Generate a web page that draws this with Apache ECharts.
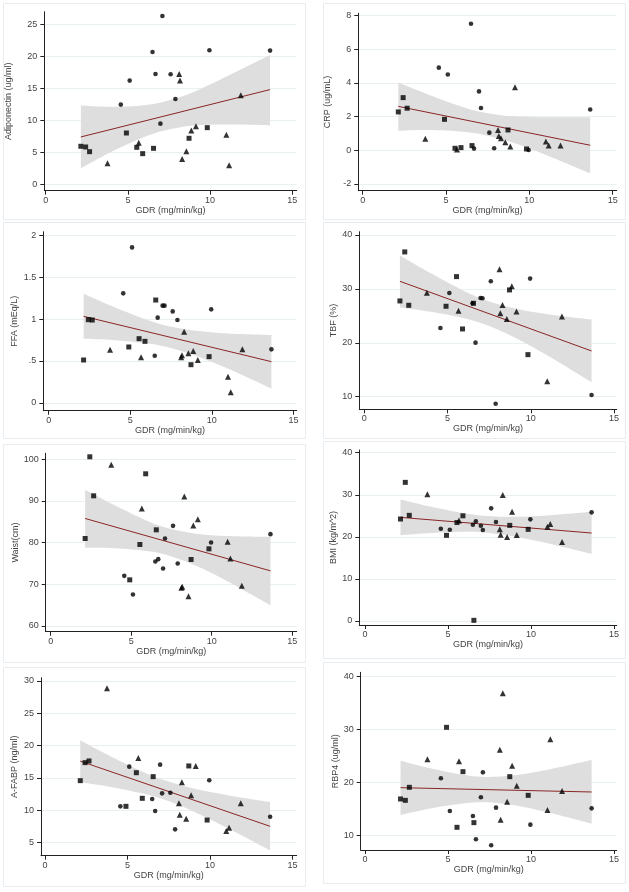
<!DOCTYPE html>
<html><head><meta charset="utf-8">
<script src="https://cdn.jsdelivr.net/npm/echarts@6.0.0/dist/echarts.min.js"></script>
<style>html,body{margin:0;padding:0;background:#fff}#c{width:629px;height:892px}</style>
</head><body><div id="c"></div><script>
// GDR (mg/min/kg) of each subject, by marker group
const gdrSquare   = [2.14, 2.43, 2.67, 4.91, 5.54, 5.90, 6.56, 8.72, 9.83];
const gdrCircle   = [4.57, 5.11, 6.50, 6.68, 6.98, 7.10, 7.60, 7.89, 9.96, 13.65];
const gdrTriangle = [3.76, 5.66, 8.12, 8.17, 8.30, 8.56, 8.86, 9.14, 10.99, 11.16, 11.87];
const xTicks = [0, 5, 10, 15];
const bandX = [2.14, 4, 6, 7.3, 9, 11, 13.65];
const fitX = [2.14, 13.65];

// Adiponectin
const adipoSquare = [5.94, 5.83, 5.10, 8.02, 5.78, 4.79, 5.62, 7.19, 8.85];
const adipoCircle = [12.45, 16.2, 20.68, 17.24, 9.48, 26.3, 17.19, 13.33, 20.94, 20.89];
const adipoTriangle = [3.28, 6.51, 17.24, 16.2, 3.96, 5.16, 8.39, 9.06, 7.76, 2.97, 13.9];
const adipoUpper = [12.3, 12.1, 12.36, 12.96, 14.43, 16.84, 20.2];
const adipoLower = [2.5, 5.08, 7.4, 8.46, 9.17, 9.34, 9.2];
const adipoFit = [7.4, 14.8];
const adipoTicks = [0, 5, 10, 15, 20, 25];

// CRP
const crpSquare = [2.28, 3.13, 2.5, 1.84, 0.12, 0.16, 0.28, 1.21, 0.08];
const crpCircle = [4.91, 4.5, 7.52, 0.1, 3.5, 2.51, 1.05, 0.12, 0.02, 2.42];
const crpTriangle = [0.69, 0.05, 1.21, 0.85, 0.71, 0.48, 0.22, 3.74, 0.53, 0.28, 0.28];
const crpUpper = [4.03, 3.29, 2.58, 2.25, 2.02, 1.96, 1.97];
const crpLower = [1.16, 1.2, 1.1, 0.91, 0.46, -0.28, -1.37];
const crpFit = [2.61, 0.3];
const crpTicks = [-2, 0, 2, 4, 6, 8];

// FFA
const ffaSquare = [0.512, 0.992, 0.988, 0.667, 0.766, 0.734, 1.226, 0.456, 0.552];
const ffaCircle = [1.306, 1.853, 0.563, 1.016, 1.159, 1.159, 1.091, 0.988, 1.115, 0.639];
const ffaTriangle = [0.635, 0.544, 0.544, 0.567, 0.849, 0.591, 0.619, 0.512, 0.313, 0.127, 0.639];
const ffaUpper = [1.30, 1.142, 0.99, 0.916, 0.859, 0.827, 0.809];
const ffaLower = [0.764, 0.748, 0.712, 0.664, 0.563, 0.407, 0.172];
const ffaFit = [1.032, 0.492];
const ffaTicks = [0, 0.5, 1, 1.5, 2];

// TBF
const tbfSquare = [27.76, 36.85, 26.95, 26.77, 32.27, 22.56, 27.32, 29.8, 17.8];
const tbfCircle = [22.75, 29.24, 27.32, 20.02, 28.31, 28.25, 31.4, 8.7, 31.9, 10.32];
const tbfTriangle = [29.3, 25.96, 33.63, 25.47, 27.01, 24.42, 30.48, 25.78, 12.85, null, 24.85];
const tbfUpper = [36.2, 32.89, 29.61, 27.9, 26.39, 25.28, 24.3];
const tbfLower = [26.55, 25.75, 24.55, 23.34, 21.03, 17.66, 12.7];
const tbfFit = [31.4, 18.48];
const tbfTicks = [10, 20, 30, 40];

// Waist
const waistSquare = [80.96, 100.56, 91.2, 71.04, 79.52, 96.48, 83.04, 75.92, 78.48];
const waistCircle = [72.0, 67.52, 75.44, 76.0, 73.76, 80.96, 84.0, 74.96, 80.0, 82.0];
const waistTriangle = [98.64, 88.16, 69.12, 69.36, 91.04, 67.12, 84.08, 85.6, 80.16, 76.16, 69.6];
const waistUpper = [92.65, 88.85, 85.18, 83.41, 82.12, 81.57, 81.35];
const waistLower = [78.75, 78.63, 77.94, 76.87, 74.46, 70.65, 64.95];
const waistFit = [85.76, 73.2];
const waistTicks = [60, 70, 80, 90, 100];

// BMI
const bmiSquare = [24.24, 32.95, 25.11, 20.36, 23.4, 25.0, 0.16, 22.73, 21.78];
const bmiCircle = [21.94, 21.7, 22.89, 23.68, 22.65, 21.62, 26.77, 23.52, 24.16, 25.82];
const bmiTriangle = [30.1, 23.9, 21.78, 20.51, 29.94, 19.96, 25.98, 20.44, 22.42, 23.05, 18.77];
const bmiUpper = [28.88, 27.14, 25.59, 24.96, 24.75, 25.09, 25.95];
const bmiLower = [20.38, 20.92, 21.19, 20.98, 20.09, 18.45, 15.9];
const bmiFit = [24.63, 20.91];
const bmiTicks = [0, 10, 20, 30, 40];

// A-FABP
const fabpSquare = [14.59, 17.37, 17.63, 10.62, 15.82, 11.86, 15.21, 16.86, 8.5];
const fabpCircle = [10.62, 16.75, 11.75, 9.9, 17.06, 12.63, 12.73, 7.06, 14.64, 9.02];
const fabpTriangle = [28.87, 18.09, 11.08, 9.33, 14.33, 8.71, 12.32, 16.86, 6.8, 7.32, 11.08];
const fabpUpper = [20.85, 18.34, 15.9, 14.6, 13.37, 12.38, 11.28];
const fabpLower = [14.35, 13.62, 12.56, 11.58, 9.83, 7.34, 3.8];
const fabpFit = [17.6, 7.53];
const fabpTicks = [5, 10, 15, 20, 25, 30];

// RBP4
const rbpSquare = [16.9, 16.64, 19.09, 30.36, 11.57, 22.03, 12.45, 21.09, 17.58];
const rbpCircle = [20.78, 14.64, 13.7, 9.32, 17.21, 21.9, 8.19, 15.27, 12.07, 15.14];
const rbpTriangle = [24.35, 23.97, 26.16, 13.01, 36.74, 16.39, 23.16, 19.4, 14.83, 28.1, 18.4];
const rbpUpper = [24.1, 22.63, 21.4, 21.05, 21.34, 22.4, 24.22];
const rbpLower = [13.9, 15.15, 16.1, 16.27, 15.74, 14.4, 12.25];
const rbpFit = [19.02, 18.21];
const rbpTicks = [10, 20, 30, 40];

const panels = [
  {title:'Adiponectin (ug/ml)', sq:adipoSquare, ci:adipoCircle, tr:adipoTriangle, up:adipoUpper, lo:adipoLower, fit:adipoFit, ticks:adipoTicks},
  {title:'CRP (ug/mL)', sq:crpSquare, ci:crpCircle, tr:crpTriangle, up:crpUpper, lo:crpLower, fit:crpFit, ticks:crpTicks},
  {title:'FFA (mEq/L)', sq:ffaSquare, ci:ffaCircle, tr:ffaTriangle, up:ffaUpper, lo:ffaLower, fit:ffaFit, ticks:ffaTicks},
  {title:'TBF (%)', sq:tbfSquare, ci:tbfCircle, tr:tbfTriangle, up:tbfUpper, lo:tbfLower, fit:tbfFit, ticks:tbfTicks},
  {title:'Waist(cm)', sq:waistSquare, ci:waistCircle, tr:waistTriangle, up:waistUpper, lo:waistLower, fit:waistFit, ticks:waistTicks},
  {title:'BMI (kg/m^2)', sq:bmiSquare, ci:bmiCircle, tr:bmiTriangle, up:bmiUpper, lo:bmiLower, fit:bmiFit, ticks:bmiTicks},
  {title:'A-FABP (ng/ml)', sq:fabpSquare, ci:fabpCircle, tr:fabpTriangle, up:fabpUpper, lo:fabpLower, fit:fabpFit, ticks:fabpTicks},
  {title:'RBP4 (ug/ml)', sq:rbpSquare, ci:rbpCircle, tr:rbpTriangle, up:rbpUpper, lo:rbpLower, fit:rbpFit, ticks:rbpTicks}
];

// layout of each panel (plot area edges in px, axis ranges, y-title gap)
const layouts = [
  {l:44.3, t:11.7, r:296.7, b:190.7, x:[-0.085,15.27], y:[-1.0,26.97], gap:31},
  {l:358.3, t:13.3, r:616.7, b:190.7, x:[-0.26,15.24], y:[-2.4,8.14], gap:26},
  {l:43.3, t:231.7, r:296.7, b:410.7, x:[-0.33,15.2], y:[-0.092,2.04], gap:24},
  {l:359.3, t:231.7, r:616.7, b:409.3, x:[-0.3,15.16], y:[7.66,40.6], gap:21},
  {l:45.7, t:453.3, r:296.7, b:631.7, x:[-0.31,15.28], y:[58.6,101.4], gap:26},
  {l:359.3, t:450, r:616.7, b:625, x:[-0.34,15.16], y:[-0.95,40.64], gap:19.5},
  {l:41, t:677.7, r:296.7, b:855.7, x:[-0.24,15.26], y:[2.99,30.5], gap:21.5},
  {l:360.7, t:672.3, r:616.7, b:850, x:[-0.26,15.16], y:[7.31,40.7], gap:20.5}
];
const frames = [
  [3,3,302,216],[323,3,302,216],[3,222,302,216],[323,222,302,216],
  [3,444,302,218],[323,441,302,217],[3,667,302,219],[323,662,302,221]
];

const FONT = '"Liberation Sans", Arial, sans-serif';
const TXT = '#444';

function splinePath(pts){
  let d = '';
  for (let i = 0; i < pts.length - 1; i++) {
    const p0 = pts[Math.max(i-1,0)], p1 = pts[i], p2 = pts[i+1], p3 = pts[Math.min(i+2, pts.length-1)];
    const c1 = [p1[0] + (p2[0]-p0[0])/6, p1[1] + (p2[1]-p0[1])/6];
    const c2 = [p2[0] - (p3[0]-p1[0])/6, p2[1] - (p3[1]-p1[1])/6];
    d += ' C' + c1[0] + ' ' + c1[1] + ' ' + c2[0] + ' ' + c2[1] + ' ' + p2[0] + ' ' + p2[1];
  }
  return d;
}
function fmtTick(v){
  if (v !== 0 && Math.abs(v) < 1) return String(v).replace('0.', '.');
  return String(v);
}
function pairs(xs, ys){ return xs.map((x,i)=>[x, ys[i]]).filter(p=>p[1]!=null); }

const grid = [], xAxis = [], yAxis = [], series = [], graphic = [];
panels.forEach((p, i) => {
  const L = layouts[i];
  grid.push({left:L.l, top:L.t, width:L.r-L.l, height:L.b-L.t, containLabel:false});
  xAxis.push({
    gridIndex:i, type:'value', min:L.x[0], max:L.x[1],
    name:'GDR (mg/min/kg)', nameLocation:'middle', nameGap:14,
    nameTextStyle:{color:TXT, fontSize:9, fontFamily:FONT},
    axisLine:{show:true, onZero:false, lineStyle:{color:'#222', width:1}},
    axisTick:{show:true, length:4, customValues:xTicks, lineStyle:{color:'#222', width:1}},
    axisLabel:{customValues:xTicks, color:TXT, fontSize:9, fontFamily:FONT, margin:5},
    splitLine:{show:false}
  });
  yAxis.push({
    gridIndex:i, type:'value', min:L.y[0], max:L.y[1],
    name:p.title, nameLocation:'middle', nameGap:L.gap,
    nameTextStyle:{color:TXT, fontSize:9, fontFamily:FONT},
    axisLine:{show:true, onZero:false, lineStyle:{color:'#222', width:1}},
    axisTick:{show:true, length:4, customValues:p.ticks, lineStyle:{color:'#222', width:1}},
    axisLabel:{customValues:p.ticks, color:TXT, fontSize:9, fontFamily:FONT, margin:7, formatter:fmtTick},
    splitLine:{show:true, lineStyle:{color:'#e8f0f2', width:1}}
  });
  series.push({
    type:'custom', xAxisIndex:i, yAxisIndex:i, silent:true, z:1,
    data:[[bandX[0], p.lo[0]]],
    renderItem:function(params, api){
      const up = bandX.map((x,k)=>api.coord([x, p.up[k]]));
      const lo = bandX.map((x,k)=>api.coord([x, p.lo[k]])).reverse();
      const d = 'M' + up[0][0] + ' ' + up[0][1] + splinePath(up) + ' L' + lo[0][0] + ' ' + lo[0][1] + splinePath(lo) + ' Z';
      return {type:'path', shape:{pathData:d}, style:{fill:'#dedede', stroke:null}};
    }
  });
  series.push({
    type:'line', xAxisIndex:i, yAxisIndex:i, symbol:'none', silent:true, z:3,
    data:pairs(fitX, p.fit), lineStyle:{color:'#8b2525', width:1}
  });
  series.push({type:'scatter', xAxisIndex:i, yAxisIndex:i, z:4, symbol:'rect', symbolSize:5,
    itemStyle:{color:'#000'}, data:pairs(gdrSquare, p.sq)});
  series.push({type:'scatter', xAxisIndex:i, yAxisIndex:i, z:4, symbol:'circle', symbolSize:4.6,
    itemStyle:{color:'#000'}, data:pairs(gdrCircle, p.ci)});
  series.push({type:'scatter', xAxisIndex:i, yAxisIndex:i, z:4, symbol:'triangle', symbolSize:6,
    itemStyle:{color:'#000'}, data:pairs(gdrTriangle, p.tr)});
  const f = frames[i];
  graphic.push({type:'rect', shape:{x:f[0]+0.5, y:f[1]+0.5, width:f[2], height:f[3]},
    style:{fill:'none', stroke:'#e6ecef', lineWidth:1}, silent:true, z:0});
});

const chart = echarts.init(document.getElementById('c'), null, {renderer:'canvas'});
chart.setOption({animation:false, backgroundColor:'#fff', grid, xAxis, yAxis, series, graphic});
</script></body></html>
